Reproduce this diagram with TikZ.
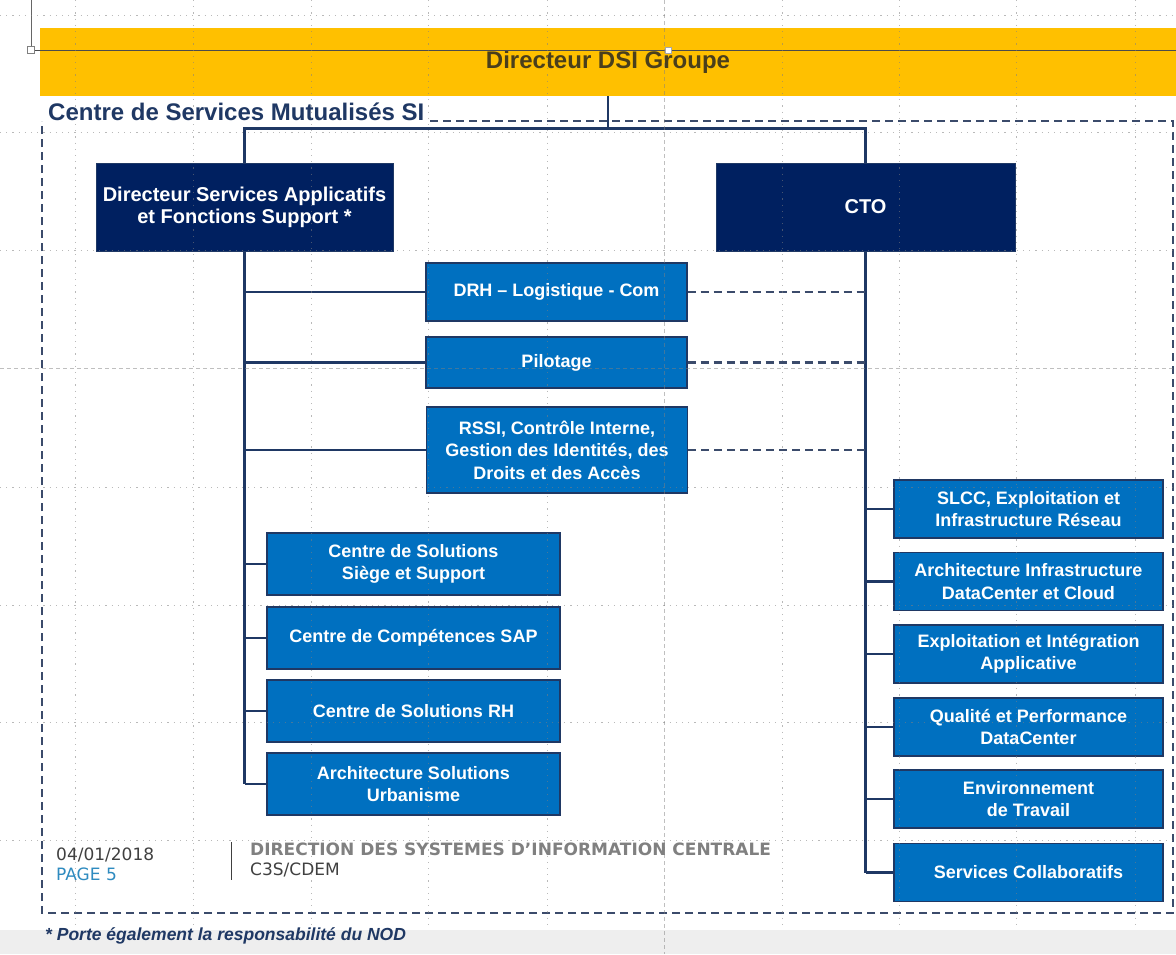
\documentclass[tikz,border=0pt]{standalone}
\usepackage{fontspec}
\setmainfont{Liberation Sans}
\newfontfamily\footfont{DejaVu Sans}
\definecolor{gold}{HTML}{FFC000}
\definecolor{navyfill}{HTML}{002060}
\definecolor{bluefill}{HTML}{0070C0}
\definecolor{linecol}{HTML}{1F3864}
\definecolor{frameco}{HTML}{3B4B6B}
\definecolor{titletxt}{HTML}{4A3F1C}
\definecolor{pagecol}{HTML}{2E8BC0}
\definecolor{footgray}{HTML}{808080}
\definecolor{datecol}{HTML}{404040}
\definecolor{barcol}{HTML}{EEEEEE}
\begin{document}
\begin{tikzpicture}[x=1pt,y=-1pt,
  navybox/.style={fill=navyfill, draw=linecol, line width=1pt, text=white,
    font=\bfseries\fontsize{20}{22}\selectfont, align=center, inner sep=0pt,
    minimum width=297pt, minimum height=88pt},
  bluebox/.style={fill=bluefill, draw=linecol, line width=1.4pt, text=white,
    font=\bfseries\fontsize{18}{22.5}\selectfont, align=center, inner sep=0pt},
  conn/.style={draw=linecol, line width=2.3pt},
  dashconn/.style={draw=frameco, line width=2.2pt, dash pattern=on 8pt off 5pt},
  gridl/.style={draw=gray, opacity=0.55, line width=1pt, dash pattern=on 1.2pt off 5pt},
  guide/.style={draw=gray, opacity=0.5, line width=0.8pt, dash pattern=on 4pt off 3pt},
  foot/.style={anchor=base west, inner sep=0pt, font=\footfont\fontsize{17}{20}\selectfont},
]
\useasboundingbox (0,0) rectangle (1176,954);
\fill[white] (0,0) rectangle (1176,954);
\fill[barcol] (0,930) rectangle (1176,954);

% top bar
\node[fill=gold, minimum width=1136pt, minimum height=68pt, inner sep=0pt, text=titletxt,
  font=\bfseries\fontsize{24}{28}\selectfont] (dsi) at (608,62) {Directeur DSI Groupe};

% selection artefacts
\draw[black!60, line width=0.8pt] (31,0) -- (31,47);
\draw[black!70, line width=0.8pt] (31,50) -- (1176,50);
\draw[gray, fill=white, line width=0.8pt] (27.5,46.5) rectangle (34.5,53.5);
\draw[gray!70, fill=white, line width=0.6pt] (665,47) rectangle (671,53);

% dashed frame
\draw[dashconn] (430,121) -- (1173,121) -- (1173,913) -- (42,913) -- (42,121);
\node[anchor=base west, inner sep=0pt, text=linecol,
  font=\bfseries\fontsize{24}{28}\selectfont] (csm) at (48,120) {Centre de Services Mutualisés SI};

% main boxes
\node[navybox] (dsa) at (244.5,207) {Directeur Services Applicatifs\\et Fonctions Support *};
\node[navybox, minimum width=299pt] (cto) at (865.5,207) {CTO};

% middle boxes
\node[bluebox, minimum width=261pt, minimum height=58pt] (drh) at (556.5,292) {DRH – Logistique - Com};
\node[bluebox, minimum width=261pt, minimum height=51pt] (pil) at (556.5,362.5) {Pilotage};
\node[bluebox, minimum width=261pt, minimum height=86pt] (rssi) at (557,450) {RSSI, Contrôle Interne,\\Gestion des Identités, des\\Droits et des Accès};

% left column
\node[bluebox, minimum width=293pt, minimum height=62pt] (cs1) at (413.5,564) {Centre de Solutions\\Siège et Support};
\node[bluebox, minimum width=293pt, minimum height=62pt] (sap) at (413.5,638) {Centre de Compétences SAP};
\node[bluebox, minimum width=293pt, minimum height=62pt] (rh) at (413.5,711) {Centre de Solutions RH};
\node[bluebox, minimum width=293pt, minimum height=62pt] (urb) at (413.5,784) {Architecture Solutions\\Urbanisme};

% right column
\node[bluebox, minimum width=269pt, minimum height=58pt] (slcc) at (1028.5,509) {SLCC, Exploitation et\\Infrastructure Réseau};
\node[bluebox, minimum width=269pt, minimum height=58pt] (aic) at (1028.5,581.5) {Architecture Infrastructure\\DataCenter et Cloud};
\node[bluebox, minimum width=269pt, minimum height=58pt] (eia) at (1028.5,654) {Exploitation et Intégration\\Applicative};
\node[bluebox, minimum width=269pt, minimum height=58pt] (qpd) at (1028.5,727) {Qualité et Performance\\DataCenter};
\node[bluebox, minimum width=269pt, minimum height=58pt] (env) at (1028.5,799) {Environnement\\de Travail};
\node[bluebox, minimum width=269pt, minimum height=58pt] (sco) at (1028.5,872.5) {Services Collaboratifs};

% connectors
\draw[conn] (dsi.south) -- ++(0,34);
\draw[conn] (dsa.north) -- ++(0,-34) -| (cto.north);
\draw[conn] (dsa.south) -- (dsa.south |- urb.west);
\foreach \n in {drh,pil,rssi,cs1,sap,rh,urb}
  \draw[conn] (dsa.south |- \n.west) -- (\n.west);
\draw[conn] (cto.south) -- (cto.south |- sco.west);
\foreach \n in {slcc,aic,eia,qpd,env,sco}
  \draw[conn] (cto.south |- \n.west) -- (\n.west);
\foreach \n in {drh,pil,rssi}
  \draw[dashconn] (\n.east) -- (\n.east -| cto.south);

% footer
\draw[datecol, line width=1pt] (231,842) -- (231,880);
\node[foot, text=datecol] (date) at (56,860) {04/01/2018};
\node[foot, text=pagecol] (page) at (56,880) {PAGE 5};
\node[foot, text=footgray, font=\footfont\bfseries\fontsize{17}{20}\selectfont] (dir) at (250,855) {DIRECTION DES SYSTEMES D’INFORMATION CENTRALE};
\node[foot, text=datecol] (c3s) at (250,875) {C3S/CDEM};
\node[anchor=base west, inner sep=0pt, text=linecol,
  font=\bfseries\itshape\fontsize{17.5}{20}\selectfont] (note) at (45,940) {* Porte également la responsabilité du NOD};

% slide grid
\foreach \gx in {75,193,311,428,547,782,899,1016,1135}
  \draw[gridl] (\gx,0) -- (\gx,925);
\foreach \gy in {15,132,250,487,605,722,840}
  \draw[gridl] (0,\gy) -- (1176,\gy);
\draw[guide] (664,0) -- (664,954);
\draw[guide] (0,368) -- (1176,368);
\end{tikzpicture}
\end{document}
